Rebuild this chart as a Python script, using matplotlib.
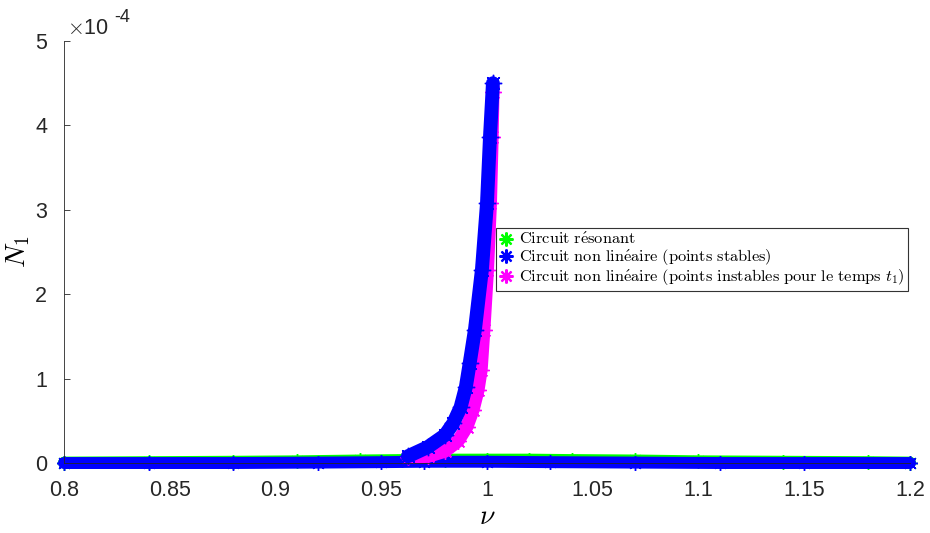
import matplotlib
matplotlib.use('Agg')
import matplotlib.pyplot as plt

plt.rcParams['mathtext.fontset'] = 'cm'

# circuit resonant (N1 in units of 1e-4)
nu_res = [0.80, 0.84, 0.88, 0.91, 0.94, 0.96, 0.98, 1.00, 1.02, 1.04, 1.07, 1.10, 1.14, 1.18, 1.20]
n_res = [0.005, 0.01, 0.015, 0.02, 0.03, 0.035, 0.04, 0.04, 0.04, 0.035, 0.03, 0.02, 0.015, 0.01, 0.005]

# non linear, stable points: low branch and upper branch
nu_low = [0.80, 0.84, 0.88, 0.92, 0.95, 0.97, 1.00, 1.03, 1.07, 1.11, 1.15, 1.20]
n_low = [0.0, 0.0, 0.0, 0.005, 0.01, 0.015, 0.015, 0.01, 0.005, 0.0, 0.0, 0.0]
nu_up = [0.9626, 0.9721, 0.9801, 0.9840, 0.9875, 0.9900, 0.9918, 0.9943, 0.9976, 1.0000, 1.0014, 1.0028]
n_up = [0.08, 0.19, 0.33, 0.47, 0.66, 0.90, 1.18, 1.58, 2.29, 3.08, 3.86, 4.50]

# non linear, unstable points
nu_uns = [0.9626, 0.9721, 0.9801, 0.9863, 0.9905, 0.9934, 0.9957, 0.9972, 0.9985, 1.0002, 1.0016, 1.0024, 1.0028]
n_uns = [0.07, 0.08, 0.14, 0.26, 0.43, 0.63, 0.86, 1.10, 1.58, 2.29, 3.08, 3.86, 4.40]

scale = 1e-4
green = '#00ff00'
blue = '#0000ff'
magenta = '#ff00ff'
star = (8, 2, 0)

fig = plt.figure(figsize=(9.3, 5.33), dpi=100)
ax = fig.add_axes([0.0688, 0.1313, 0.9097, 0.7917])


def band(x, y, color, lw):
    ax.plot(x, [v * scale for v in y], color=color, lw=lw, solid_capstyle='round',
            solid_joinstyle='round', clip_on=False, zorder=2)
    ax.plot(x, [v * scale for v in y], color=color, ls='none', marker=star,
            ms=lw * 1.25, mew=1.0, clip_on=False, zorder=2)


band(nu_res, n_res, green, 8.6)
band(nu_low, n_low, blue, 8.6)
band(nu_uns, n_uns, magenta, 9.5)
band(nu_up, n_up, blue, 10)

# legend handles
h1, = ax.plot([], [], color=green, ls='none', marker=star, ms=10, mew=1.6)
h2, = ax.plot([], [], color=blue, ls='none', marker=star, ms=10, mew=1.6)
h3, = ax.plot([], [], color=magenta, ls='none', marker=star, ms=10, mew=1.6)
leg = ax.legend([h1, h2, h3],
                [r'$\mathrm{Circuit\ r\acute{e}sonant}$',
                 r'$\mathrm{Circuit\ non\ lin\acute{e}aire\ (points\ stables)}$',
                 r'$\mathrm{Circuit\ non\ lin\acute{e}aire\ (points\ instables\ pour\ le\ temps\ }t_1\mathrm{)}$'],
                loc='upper left', bbox_to_anchor=(0.5106, 0.557), borderaxespad=0,
                fancybox=False, framealpha=1, edgecolor='#333333',
                handlelength=0.8, handletextpad=0.4, borderpad=0.2, labelspacing=0.02,
                fontsize=11.8)
leg.get_frame().set_linewidth(0.8)
leg.set_zorder(5)

ax.set_xlim(0.8, 1.2)
ax.set_ylim(0, 5e-4)
ax.set_xticks([0.8, 0.85, 0.9, 0.95, 1.0, 1.05, 1.1, 1.15, 1.2])
ax.set_xticklabels(['0.8', '0.85', '0.9', '0.95', '1', '1.05', '1.1', '1.15', '1.2'])
ax.set_yticks([0, 1e-4, 2e-4, 3e-4, 4e-4, 5e-4])
ax.set_yticklabels(['0', '1', '2', '3', '4', '5'])
for s in ['top', 'right']:
    ax.spines[s].set_visible(False)
for s in ['left', 'bottom']:
    ax.spines[s].set_color('#262626')
    ax.spines[s].set_linewidth(0.6)
ax.tick_params(direction='in', length=4, width=0.6, color='#262626',
               labelsize=15.5, labelcolor='#262626')
ax.tick_params(axis='x', pad=12)
ax.tick_params(axis='y', pad=12)
for t in ax.get_xticklabels() + ax.get_yticklabels():
    t.set_fontfamily('Liberation Sans')

ax.text(0.004, 1.005, r'$\times$10', transform=ax.transAxes,
        fontsize=15.5, family='Liberation Sans', color='#262626', va='bottom', ha='left')
ax.text(0.059, 1.035, '-4', transform=ax.transAxes,
        fontsize=13, family='Liberation Sans', color='#262626', va='bottom', ha='left')

ax.set_xlabel(r'$\nu$', fontsize=20, labelpad=1)
ax.set_ylabel(r'$N_1$', fontsize=20, labelpad=2)

fig.savefig('out.png', dpi=100)
